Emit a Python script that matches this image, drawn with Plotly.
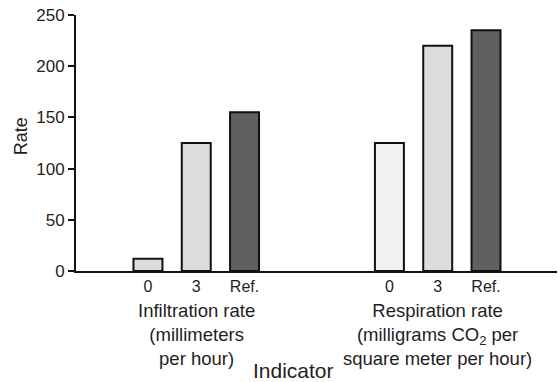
import plotly.graph_objects as go

# Data
groups = ["Infiltration rate<br>(millimeters<br>per hour)",
          "Respiration rate<br>(milligrams CO<sub>2</sub> per<br>square meter per hour)"]
conditions = ["0", "3", "Ref."]
infiltration = [12, 125, 155]
respiration = [125, 220, 235]
fills_infiltration = ["#dcdcdc", "#dcdcdc", "#606060"]
fills_respiration = ["#f2f2f2", "#dcdcdc", "#606060"]

pos_inf = [0, 1, 2]
pos_res = [5, 6, 7]

FONT = "Liberation Sans, Arial, sans-serif"

fig = go.Figure()
fig.add_trace(go.Bar(x=pos_inf, y=infiltration, width=0.6,
                     marker=dict(color=fills_infiltration, line=dict(color="#111", width=2)),
                     showlegend=False))
fig.add_trace(go.Bar(x=pos_res, y=respiration, width=0.6,
                     marker=dict(color=fills_respiration, line=dict(color="#111", width=2)),
                     showlegend=False))

fig.update_layout(
    width=558, height=382,
    margin=dict(l=76, r=1, t=15, b=111),
    paper_bgcolor="white", plot_bgcolor="white",
    font=dict(family=FONT, color="#1e1e1e", size=16),
    xaxis=dict(range=[-1.49, 8.47], showline=True, linecolor="#111", linewidth=2,
               tickvals=pos_inf + pos_res, ticktext=conditions + conditions,
               ticks="", showgrid=False, zeroline=False,
               tickfont=dict(size=16, color="#1e1e1e")),
    yaxis=dict(range=[0, 250], tickvals=[0, 50, 100, 150, 200, 250],
               showline=True, linecolor="#111", linewidth=2,
               ticks="outside", ticklen=6, tickwidth=2, tickcolor="#111",
               showgrid=False, zeroline=False,
               tickfont=dict(size=17, color="#1e1e1e")),
)

for gx, label in zip([1, 6], groups):
    fig.add_annotation(x=gx, xref="x", y=0, yref="paper", yanchor="top",
                       xanchor="center", yshift=-27, text=label, showarrow=False,
                       font=dict(size=18.5, color="#1e1e1e", family=FONT), align="center")

fig.add_annotation(x=(293 - 76) / 481, xref="paper", y=0, yref="paper",
                   xanchor="center", yanchor="middle",
                   yshift=-99, text="Indicator", showarrow=False,
                   font=dict(size=21, color="#1e1e1e", family=FONT))
fig.add_annotation(x=(21 - 76) / 481, xref="paper", y=(270.7 - 136) / 256, yref="paper",
                   xanchor="center", yanchor="middle",
                   text="Rate", textangle=-90, showarrow=False,
                   font=dict(size=18, color="#1e1e1e", family=FONT))

fig.write_html("out.html", config={"displayModeBar": False},
               post_script="document.body.style.margin='0';")
